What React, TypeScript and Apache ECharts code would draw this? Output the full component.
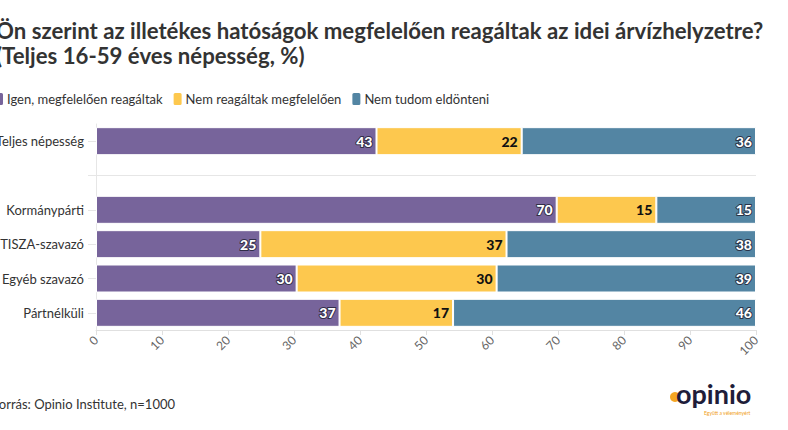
import React, { useEffect, useRef } from "react";
import * as echarts from "echarts";

const categories = ["Teljes népesség", " ", "Kormánypárti", "TISZA-szavazó", "Egyéb szavazó", "Pártnélküli"];
const seriesNames = ["Igen, megfelelően reagáltak", "Nem reagáltak megfelelően", "Nem tudom eldönteni"];
const igen = [42.5, null, 69.8, 24.9, 30.4, 36.9];
const nem = [22.0, null, 15.1, 37.3, 30.3, 17.2];
const nemTudom = [35.5, null, 15.1, 37.8, 39.3, 45.9];
const xTicks = [0, 10, 20, 30, 40, 50, 60, 70, 80, 90, 100];
const colors = ["#77649b", "#fdc84e", "#5385a3"];
const titleLines = ["Ön szerint az illetékes hatóságok megfelelően reagáltak az idei árvízhelyzetre?", "(Teljes 16-59 éves népesség, %)"];
const sourceText = "Forrás: Opinio Institute, n=1000";

const FONT = "Lato, 'Noto Sans', sans-serif";

export default function App() {
  const ref = useRef<HTMLDivElement>(null);
  useEffect(() => {
    if (!ref.current) return;
    const chart = echarts.init(ref.current, null, { renderer: "svg" });
    const values = [igen, nem, nemTudom];
    const mkSeries = (i: number) => ({
      name: seriesNames[i],
      type: "bar",
      stack: "total",
      barWidth: 28,
      data: values[i],
      itemStyle: { color: colors[i], borderColor: "#ffffff", borderWidth: 1 },
      label: {
        show: true,
        position: "insideRight",
        distance: 4,
        fontFamily: FONT,
        fontWeight: 900,
        fontSize: 14,
        color: i === 1 ? "#111111" : "#ffffff",
        textBorderColor: i === 1 ? "transparent" : "rgba(30,30,50,0.8)",
        textBorderWidth: i === 1 ? 0 : 2,
        formatter: (p: any) => (p.value == null ? "" : String(Math.round(p.value))),
      },
      markLine:
        i === 0
          ? {
              silent: true,
              symbol: "none",
              label: { show: false },
              lineStyle: { color: "#e6e6e6", width: 1, type: "solid" },
              data: [{ yAxis: 1 }],
            }
          : undefined,
    });
    chart.setOption({
      animation: false,
      textStyle: { fontFamily: FONT },
      grid: { left: 96, right: 32, top: 124, bottom: 100, containLabel: false, outerBoundsMode: "none" },
      legend: {
        left: 0,
        top: 86,
        padding: [5, 5, 5, -7],
        icon: "roundRect",
        itemWidth: 10,
        itemHeight: 14,
        itemGap: 9,
        textStyle: { fontFamily: FONT, fontSize: 13, color: "#333333", padding: [0, 0, 0, -2] },
        data: seriesNames,
      },
      xAxis: {
        type: "value",
        min: 0,
        max: 100,
        interval: 10,
        axisLine: { show: true, lineStyle: { color: "#e0e0e0" } },
        axisTick: { show: true, length: 5, lineStyle: { color: "#e0e0e0" } },
        splitLine: { show: false },
        axisLabel: {
          rotate: 45,
          margin: 8,
          fontFamily: FONT,
          fontSize: 12,
          color: "#666666",
          formatter: (v: number) => (xTicks.includes(v) ? String(v) : ""),
        },
      },
      yAxis: {
        type: "category",
        inverse: true,
        data: categories,
        axisLine: { show: true, lineStyle: { color: "#e6e6e6" } },
        axisTick: { show: true, alignWithLabel: true, length: 8, lineStyle: { color: "#e6e6e6" } },
        axisLabel: { margin: 12, fontFamily: FONT, fontSize: 13, color: "#333333" },
      },
      series: [mkSeries(0), mkSeries(1), mkSeries(2)],
      graphic: [
        {
          type: "text",
          left: -4,
          top: 19,
          style: { text: titleLines[0], fontFamily: FONT, fontWeight: "bold", fontSize: 22.2, fill: "#333333" },
        },
        {
          type: "text",
          left: -4,
          top: 44,
          style: { text: titleLines[1], fontFamily: FONT, fontWeight: "bold", fontSize: 22.2, fill: "#333333" },
        },
        {
          type: "text",
          left: -8,
          top: 397,
          style: { text: sourceText, fontFamily: FONT, fontSize: 13, fill: "#333333" },
        },
        {
          type: "group",
          left: 670,
          top: 380,
          children: [
            { type: "circle", shape: { cx: 7, cy: 17, r: 5 }, style: { fill: "#f5a623" } },
            {
              type: "text",
              x: 8,
              y: 0,
              style: { text: "opinio", fontFamily: FONT, fontWeight: "bold", fontSize: 27, fill: "#1f1d3a" },
            },
            {
              type: "text",
              x: 36,
              y: 30,
              style: { text: "Együtt a véleményért", fontFamily: FONT, fontSize: 5, fill: "#f0a020" },
            },
          ],
        },
      ],
    });
    return () => chart.dispose();
  }, []);
  return <div ref={ref} style={{ position: "absolute", left: 0, top: 0, width: 788, height: 430 }} />;
}
